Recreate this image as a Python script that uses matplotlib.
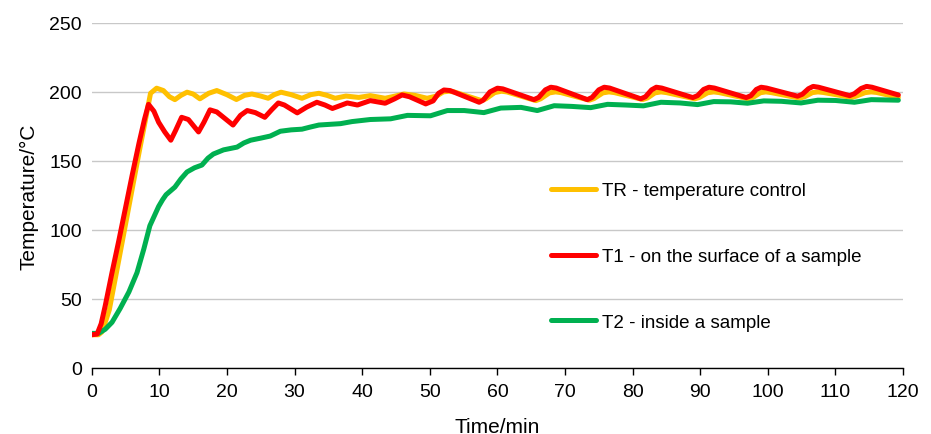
import matplotlib.pyplot as plt

plt.rcParams['font.family'] = ['Liberation Sans', 'DejaVu Sans']

# TR - temperature control
t_tr = [0, 1, 1.5, 2, 2.6, 4, 5, 6, 7, 8, 8.7, 9.6, 10.6, 11.5, 12.3, 13.2,
        14.1, 15, 16, 17.3, 18.5, 20, 21.4, 22.6, 23.7, 25, 26.1, 27, 28,
        29.5, 31.1, 32.4, 33.6, 34.8, 36, 37.6, 39.5, 41.2, 43.4, 44.9, 46.2,
        47.8, 49.6, 51, 52, 52.8, 53.6, 57.6, 58.3, 59.6, 60.6, 61.4, 65.7,
        66.4, 67.7, 68.6, 69.4, 73.6, 74.3, 75.6, 76.5, 77.3, 81.5, 82.2,
        83.3, 84.2, 85, 89.2, 89.9, 91.1, 92, 92.8, 97.1, 97.8, 98.9, 99.7,
        100.5, 104.7, 105.4, 106.6, 107.4, 108.2, 112.4, 113.1, 114.4, 115.3,
        116.1, 119.3]
v_tr = [24, 24, 26, 33, 42, 78, 104, 130, 156, 181, 199, 202.7, 201, 196.5,
        194.4, 197.5, 199.8, 198.5, 195, 199, 201, 198, 194.5, 197.5, 198.5,
        197, 195.4, 198, 199.8, 198, 195.4, 198, 199, 197.5, 195.4, 197, 196,
        197.3, 195.4, 197, 198.5, 197.5, 195.4, 197, 200, 200.5, 200, 193.8,
        195, 199.5, 200.5, 200, 193.7, 195, 199.3, 200, 199.5, 194, 195.2,
        199.3, 200, 199.5, 194.5, 195.6, 199.3, 200, 199.5, 195, 196, 199.4,
        200, 199.5, 195, 196, 199.4, 200, 199.5, 195.5, 196.4, 199.5, 200,
        199.6, 196, 197, 199.5, 200, 199.6, 196]

# T1 - on the surface of a sample
t_t1 = [0, 0.8, 1.4, 2, 3, 4, 5, 6, 7, 7.8, 8.4, 9.2, 9.9, 10.8, 11.7, 12.4,
        13.3, 14.3, 15.8, 16.6, 17.5, 18.5, 20.9, 22, 23, 24.2, 25.6, 26.6,
        27.6, 28.5, 30.4, 31.8, 33.3, 34.5, 35.6, 37.8, 39.3, 41.2, 43.4, 44.8,
        45.9, 47, 49.4, 50.5, 51.3, 52.1, 53, 57.3, 57.9, 58.9, 60, 60.8, 65.4,
        66.1, 67.1, 67.9, 68.7, 73.3, 74, 75, 75.8, 76.6, 81.2, 81.9, 82.8,
        83.5, 84.3, 88.9, 89.6, 90.5, 91.3, 92.1, 96.8, 97.5, 98.3, 99, 99.8,
        104.4, 105.1, 106, 106.7, 107.5, 112.1, 112.8, 113.8, 114.6, 115.4,
        119.3]
v_t1 = [24, 24.5, 32, 45, 69, 92, 116, 140, 163, 180, 191, 186, 178, 171,
        165, 172, 181.6, 180, 171, 178, 187, 185.5, 176, 183, 186.5, 185,
        181.6, 187, 192, 190.5, 184.8, 189, 192.5, 190.5, 188, 192, 190.5,
        193.7, 191.8, 195, 197.8, 196.5, 191.3, 193.5, 199, 201.4, 201, 192.5,
        194, 200, 202.7, 202.2, 194.4, 196, 201.5, 203.4, 202.8, 194.4, 196,
        201.5, 203.4, 202.8, 195, 196.5, 201.5, 203.4, 202.8, 195.9, 197.3,
        201.8, 203.4, 202.8, 195.9, 197.3, 201.8, 203.4, 202.8, 196.9, 198.3,
        202.3, 204, 203.4, 197.3, 198.7, 202.5, 204, 203.4, 197.8]

# T2 - inside a sample
t_t2 = [0, 1, 2, 3, 4.2, 5.5, 6.7, 7.7, 8.6, 9.9, 10.5, 11, 12.3, 13.2, 14.1,
        15.2, 16.3, 17.2, 18, 19.5, 21.5, 22.5, 23.5, 25, 26.4, 27.9, 29.5,
        31.1, 32.3, 33.6, 36.8, 38.5, 41.2, 44.2, 46.7, 50.1, 52.6, 55.1, 58,
        60.5, 63.5, 65.9, 68.4, 71, 73.8, 76.3, 79, 81.6, 84.2, 87, 89.6, 92,
        94.5, 97, 99.4, 102, 104.9, 107.4, 110, 112.8, 115.3, 119.3]
v_t2 = [25, 25, 28, 33, 43, 55, 69, 86, 103, 117, 122, 125.5, 131, 137, 142,
        145, 147, 152, 155, 158, 160, 163, 165, 166.5, 168, 171.5, 172.5, 173,
        174.5, 176, 177, 178.5, 180, 180.5, 183, 182.7, 186.5, 186.5, 185,
        188.3, 188.8, 186.5, 190, 189.5, 188.6, 191, 190.5, 189.9, 192.5, 192,
        190.8, 193, 192.8, 191.8, 193.5, 193.2, 192, 194, 193.8, 192.5, 194.4,
        194]

labels = ['TR - temperature control', 'T1 - on the surface of a sample',
          'T2 - inside a sample']
colors = ['#FFC000', '#FF0000', '#00B050']

fig = plt.figure(figsize=(9.31, 4.35), dpi=100)
ax = fig.add_axes([0.0985, 0.152, 0.8715, 0.793])

lw = 3.6
style = dict(lw=lw, solid_joinstyle='round', solid_capstyle='round')
l_tr, = ax.plot(t_tr, v_tr, color=colors[0], zorder=3, **style)
l_t2, = ax.plot(t_t2, v_t2, color=colors[2], zorder=3, **style)
l_t1, = ax.plot(t_t1, v_t1, color=colors[1], zorder=4, **style)

ax.set_xlim(0, 120)
ax.set_ylim(0, 250)
ax.set_xticks(range(0, 121, 10))
ax.set_yticks(range(0, 251, 50))
ax.yaxis.grid(True, color='#C8C8C8', lw=1)
ax.set_axisbelow(True)
for s in ['top', 'right', 'left']:
    ax.spines[s].set_visible(False)
ax.spines['bottom'].set_color('black')
ax.spines['bottom'].set_linewidth(1)
ax.spines['bottom'].set_zorder(5)
ax.tick_params(axis='y', length=0, pad=7, labelsize=14)
ax.tick_params(axis='x', length=5, width=1, direction='out', pad=6,
               labelsize=14)
ax.set_xlabel('Time/min', fontsize=15, labelpad=12)
ax.set_ylabel('Temperature/°C', fontsize=15, labelpad=8)

leg = ax.legend([l_tr, l_t1, l_t2], labels, loc='upper left',
                bbox_to_anchor=(0.592, 0.579), bbox_transform=fig.transFigure,
                frameon=False, fontsize=13.5, labelspacing=2.6,
                handlelength=2.4, handletextpad=0.3, borderpad=0,
                borderaxespad=0)

fig.savefig('out.png', dpi=100)
